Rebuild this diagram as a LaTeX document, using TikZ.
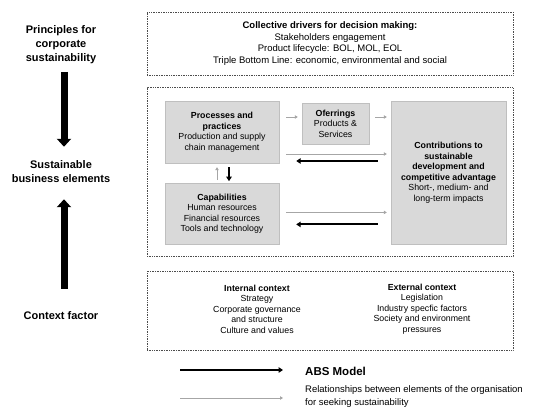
\documentclass[tikz,border=0pt]{standalone}
\usepackage{fontspec}
\setmainfont{Liberation Sans}
\usetikzlibrary{arrows.meta, positioning, calc}

\begin{document}
\begin{tikzpicture}[
        x=1pt, y=1pt,
        frame/.style={rectangle, draw=black!70, densely dotted, line width=0.7pt, minimum width=366pt, align=center, inner sep=0pt},
        elem/.style={rectangle, draw=black!25, fill=black!15, align=center, inner sep=0pt, font=\fontsize{8.8}{10.5}\selectfont},
        side/.style={align=center, inner sep=1pt, font=\fontsize{11}{14}\selectfont\bfseries},
        ctx/.style={align=center, inner sep=0pt, font=\fontsize{8.8}{10.5}\selectfont},
        bigarrow/.style={-{Triangle[width=14pt, length=8pt]}, line width=7pt},
        rel/.style={-{Triangle[width=3.5pt, length=3pt]}, line width=0.9pt, draw=black!35},
        abs/.style={-{Triangle[width=5.5pt, length=4.5pt]}, line width=1.8pt},
    ]
        \useasboundingbox (0,0) rectangle (550,417);

        % Frames
        \node[frame, minimum height=63pt, font=\fontsize{9.5}{11.5}\selectfont] (drivers) at (330,373.5) {\textbf{Collective drivers for decision making:}\\Stakeholders engagement\\Product lifecycle: BOL, MOL, EOL\\Triple Bottom Line: economic, environmental and social};
        \node[frame, minimum height=169pt, below=12pt of drivers] (business) {};
        \node[frame, minimum height=79pt, below=14pt of business] (context) {};

        % Side labels
        \node[side] (principles) at (61,372.5) {Principles for\\corporate\\sustainability};
        \node[side] (elements) at (61,245) {Sustainable\\business elements};
        \node[side] (factor) at (61,101) {Context factor};

        % Business elements
        \node[elem, minimum width=114pt, minimum height=62pt] (proc) at (222,285) {\textbf{Processes and}\\\textbf{practices}\\Production and supply\\chain management};
        \node[elem, minimum width=114pt, minimum height=61pt, below=20pt of proc] (capab) {\textbf{Capabilities}\\Human resources\\Financial resources\\Tools and technology};
        \node[elem, minimum width=67pt, minimum height=41pt] (offer) at (335.5,293.5) {\textbf{Oferrings}\\Products \&\\Services};
        \node[elem, minimum width=115pt, minimum height=143pt] (contrib) at (448.5,244.5) {\textbf{Contributions to}\\\textbf{sustainable}\\\textbf{development and}\\\textbf{competitive advantage}\\Short-, medium- and\\long-term impacts};

        % Context
        \node[ctx] (internal) at (257,108) {\textbf{Internal context}\\Strategy\\Corporate governance\\and structure\\Culture and values};
        \node[ctx] (external) at (422,108) {\textbf{External context}\\Legislation\\Industry specfic factors\\Society and environment\\pressures};

        % Legend
        \node[anchor=west, inner sep=0pt, font=\fontsize{11.5}{14}\selectfont\bfseries] (abslabel) at (305,46) {ABS Model};
        \node[anchor=west, align=left, inner sep=0pt, font=\fontsize{9.5}{13}\selectfont] (rellabel) at (305,20) {Relationships between elements of the organisation\\for seeking sustainability};
        \coordinate (absstart) at (180,47);
        \coordinate (absend) at (283,47);
        \coordinate (relstart) at (180,19);
        \coordinate (relend) at (283,19);

        % Arrows
        \draw[bigarrow, shorten <=7pt, shorten >=13pt] ([xshift=3pt]principles.south) -- ([xshift=3pt]elements.north);
        \draw[bigarrow, shorten <=22pt, shorten >=15pt] ([xshift=3pt]factor.north) -- ([xshift=3pt]elements.south);
        \draw[rel, shorten <=7pt, shorten >=4pt] ([yshift=15pt]proc.east) -- ([yshift=15pt]proc.east -| offer.west);
        \draw[rel, shorten <=6pt, shorten >=4pt] ([yshift=6.5pt]offer.east) -- ([yshift=6.5pt]offer.east -| contrib.west);
        \draw[rel, shorten <=7pt, shorten >=4pt] ([yshift=-22pt]proc.east) -- ([yshift=-22pt]proc.east -| contrib.west);
        \draw[abs, shorten <=13pt, shorten >=17pt] ([yshift=-29pt]proc.east -| contrib.west) -- ([yshift=-29pt]proc.east);
        \draw[rel, shorten <=7pt, shorten >=4pt] ([yshift=1.5pt]capab.east) -- ([yshift=1.5pt]capab.east -| contrib.west);
        \draw[abs, shorten <=13pt, shorten >=17pt] ([yshift=-10.5pt]capab.east -| contrib.west) -- ([yshift=-10.5pt]capab.east);
        \draw[rel, shorten <=3pt, shorten >=4pt] ([xshift=-5pt]capab.north) -- ([xshift=-5pt]proc.south);
        \draw[abs, shorten <=4pt, shorten >=2pt] ([xshift=7pt]proc.south) -- ([xshift=7pt]capab.north);
        \draw[abs] (absstart) -- (absend);
        \draw[rel] (relstart) -- (relend);
    \end{tikzpicture}
\end{document}
